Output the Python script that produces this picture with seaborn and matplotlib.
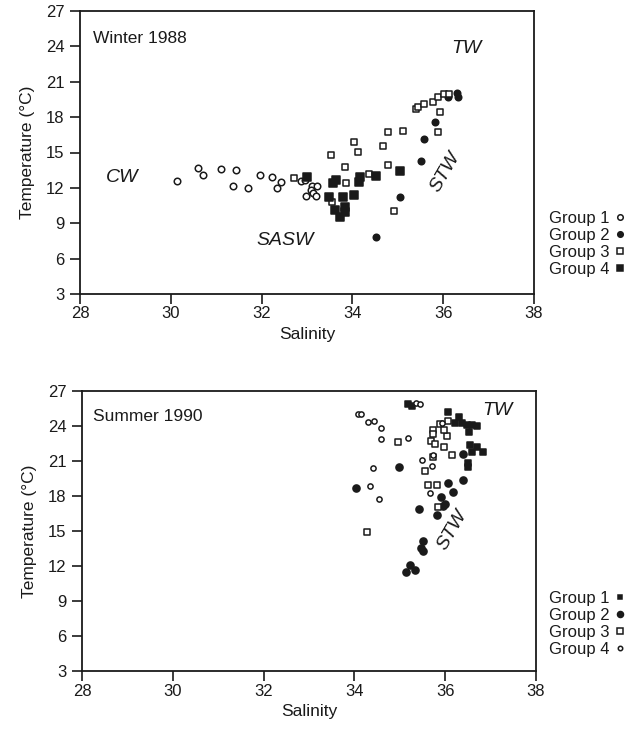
"""T-S diagrams for winter 1988 and summer 1990 water mass groups."""

import matplotlib

matplotlib.use("Agg")
import matplotlib.pyplot as plt
import pandas as pd
import seaborn as sns
from matplotlib.lines import Line2D

sns.set_theme(style="white")
plt.rcParams["font.family"] = ["Liberation Sans", "DejaVu Sans"]

GROUPS = ["Group 1", "Group 2", "Group 3", "Group 4"]

# --- Winter 1988 -----------------------------------------------------------
w_g1_sal = [30.14, 30.61, 30.72, 31.10, 31.44, 31.36, 31.69, 31.96, 32.24, 32.43,
            32.33, 32.87, 32.96, 33.12, 33.21, 33.08, 32.98, 33.14, 33.20]
w_g1_tmp = [12.58, 13.71, 13.09, 13.60, 13.51, 12.18, 12.01, 13.09, 12.95, 12.47,
            11.96, 12.62, 12.67, 12.20, 12.20, 11.80, 11.28, 11.55, 11.28]
w_g2_sal = [34.53, 35.05, 35.50, 35.58, 35.82, 36.10, 36.31, 36.33]
w_g2_tmp = [7.80, 11.20, 14.30, 16.17, 17.61, 19.68, 20.02, 19.73]
w_g3_sal = [32.72, 33.52, 34.04, 34.12, 33.84, 33.87, 34.37, 34.67, 34.78, 35.12, 34.79,
            34.92, 35.39, 35.45, 35.58, 35.78, 35.88, 36.02, 36.13, 35.93, 35.89, 33.56]
w_g3_tmp = [12.80, 14.76, 15.86, 15.07, 13.79, 12.44, 13.15, 15.55, 16.77, 16.85, 13.94,
            10.06, 18.66, 18.88, 19.09, 19.31, 19.68, 19.96, 19.96, 18.46, 16.71, 10.83]
w_g4_sal = [33.01, 33.58, 33.64, 33.49, 33.80, 34.04, 33.62, 33.84, 33.84, 33.73,
            34.17, 34.15, 34.52, 35.05]
w_g4_tmp = [12.95, 12.38, 12.67, 11.25, 11.25, 11.39, 10.12, 10.40, 9.98, 9.50,
            12.95, 12.52, 13.01, 13.46]

# --- Summer 1990 -----------------------------------------------------------
s_g1_sal = [35.17, 35.26, 36.06, 36.31, 36.22, 36.36, 36.47, 36.58, 36.69, 36.53,
            36.55, 36.69, 36.83, 36.58, 36.51, 36.51]
s_g1_tmp = [25.85, 25.75, 25.17, 24.80, 24.23, 24.23, 24.09, 24.09, 24.00, 23.51,
            22.37, 22.18, 21.80, 21.80, 20.80, 20.46]
s_g2_sal = [34.04, 34.99, 36.39, 36.39, 36.07, 36.18, 35.91, 36.00, 35.83, 35.96,
            35.43, 35.52, 35.46, 35.50, 35.23, 35.14, 35.33]
s_g2_tmp = [18.66, 20.51, 21.57, 19.37, 19.09, 18.32, 17.94, 17.32, 16.37, 17.15,
            16.86, 14.17, 13.52, 13.31, 12.09, 11.52, 11.66]
s_g3_sal = [34.27, 34.96, 35.74, 35.74, 35.69, 35.78, 35.74, 35.56, 35.63, 35.81,
            35.85, 35.98, 36.14, 36.03, 35.89, 36.06, 35.97]
s_g3_tmp = [14.89, 22.60, 23.66, 23.30, 22.71, 22.46, 21.37, 20.17, 18.94, 18.94,
            17.09, 22.23, 21.51, 23.17, 24.14, 24.46, 23.66]
s_g4_sal = [34.09, 34.15, 34.31, 34.43, 34.58, 34.58, 35.19, 34.40, 34.35, 34.55,
            35.35, 35.45, 35.48, 35.72, 35.67, 35.92, 35.74]
s_g4_tmp = [25.00, 25.00, 24.32, 24.43, 23.80, 22.86, 23.00, 20.38, 18.86, 17.72,
            25.95, 25.86, 21.09, 20.57, 18.29, 24.23, 21.52]

x_ticks = [28, 30, 32, 34, 36, 38]
y_ticks = [3, 6, 9, 12, 15, 18, 21, 24, 27]

INK = "#1a1a1a"

# marker, filled?, size (points^2)
winter_style = {
    "Group 1": ("o", False, 22),
    "Group 2": ("o", True, 22),
    "Group 3": ("s", False, 24),
    "Group 4": ("s", True, 26),
}
summer_style = {
    "Group 1": ("s", True, 13),
    "Group 2": ("o", True, 26),
    "Group 3": ("s", False, 24),
    "Group 4": ("o", False, 14),
}


def frame(sal_lists, tmp_lists):
    parts = []
    for g, s, t in zip(GROUPS, sal_lists, tmp_lists):
        parts.append(pd.DataFrame({"salinity": s, "temperature": t, "group": g}))
    return pd.concat(parts, ignore_index=True)


winter = frame([w_g1_sal, w_g2_sal, w_g3_sal, w_g4_sal],
               [w_g1_tmp, w_g2_tmp, w_g3_tmp, w_g4_tmp])
summer = frame([s_g1_sal, s_g2_sal, s_g3_sal, s_g4_sal],
               [s_g1_tmp, s_g2_tmp, s_g3_tmp, s_g4_tmp])


def draw_panel(ax, df, styles):
    handles = []
    for g in GROUPS:
        marker, filled, size = styles[g]
        sub = df[df["group"] == g]
        fc = INK if filled else "white"
        sns.scatterplot(data=sub, x="salinity", y="temperature", marker=marker,
                        s=size, facecolor=fc, edgecolor=INK, linewidth=1.1,
                        ax=ax, legend=False, zorder=3)
        handles.append(Line2D([], [], ls="none", marker=marker,
                              markersize=(size ** 0.5) * 0.85,
                              markerfacecolor=fc, markeredgecolor=INK,
                              markeredgewidth=1.1, label=g))
    ax.set_xlim(28, 38)
    ax.set_ylim(3, 27)
    ax.set_xticks(x_ticks)
    ax.set_yticks(y_ticks)
    ax.set_xlabel("Salinity", fontsize=12.5, color=INK, labelpad=4)
    ax.set_ylabel("Temperature (°C)", fontsize=12.5, color=INK, labelpad=8)
    ax.tick_params(direction="out", length=7, width=1.2, colors=INK,
                   labelsize=12, bottom=True, left=True)
    ax.tick_params(axis="x", pad=2)
    ax.tick_params(axis="y", pad=4)
    for sp in ax.spines.values():
        sp.set_color(INK)
        sp.set_linewidth(1.3)
    return handles


fig = plt.figure(figsize=(6.28, 7.32), dpi=100)
fig.patch.set_facecolor("white")

ax1 = fig.add_axes([80 / 628, 1 - 294 / 732, 454 / 628, 283 / 732])
h1 = draw_panel(ax1, winter, winter_style)
ax1.text(28.28, 24.7, "Winter 1988", fontsize=12.5, color=INK, va="center")
ax1.text(28.93, 12.84, "CW", fontsize=14, style="italic", color=INK,
         ha="center", va="center")
ax1.text(32.52, 7.5, "SASW", fontsize=14, style="italic", color=INK,
         ha="center", va="center")
ax1.text(36.52, 23.78, "TW", fontsize=14, style="italic", color=INK,
         ha="center", va="center")
ax1.text(36.04, 13.34, "STW", fontsize=14, style="italic", color=INK,
         ha="center", va="center", rotation=60)

ax2 = fig.add_axes([82 / 628, 1 - 671 / 732, 454 / 628, 280 / 732])
h2 = draw_panel(ax2, summer, summer_style)
ax2.text(28.25, 24.8, "Summer 1990", fontsize=12.5, color=INK, va="center")
ax2.text(37.14, 25.37, "TW", fontsize=14, style="italic", color=INK,
         ha="center", va="center")
ax2.text(36.15, 15.1, "STW", fontsize=14, style="italic", color=INK,
         ha="center", va="center", rotation=60)

for handles, yc in [(h1, 244), (h2, 624)]:
    fig.legend(handles=handles, loc="center left",
               bbox_to_anchor=(549 / 628, 1 - yc / 732), frameon=False,
               markerfirst=False, fontsize=12, handlelength=0.5,
               handletextpad=0.35, labelspacing=0.12, borderpad=0,
               borderaxespad=0, labelcolor=INK)

fig.savefig("out.png", dpi=100)
